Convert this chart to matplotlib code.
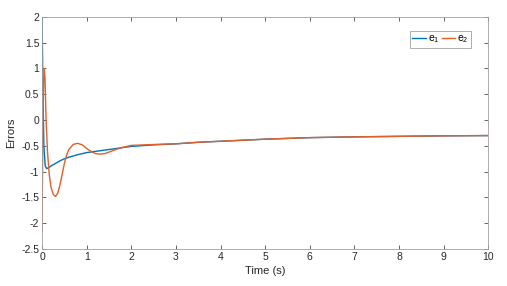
import matplotlib.pyplot as plt

plt.rcParams['font.family'] = ['Liberation Sans', 'DejaVu Sans']
plt.rcParams['mathtext.fontset'] = 'custom'
plt.rcParams['mathtext.rm'] = 'Liberation Sans'
plt.rcParams['mathtext.it'] = 'Liberation Sans'

# values
t1 = [0, 0.02, 0.04, 0.07, 0.1, 0.15, 0.2, 0.3, 0.4, 0.5, 0.6, 0.8, 1.0, 1.25, 1.5,
      1.75, 2.0, 2.5, 3, 3.5, 4, 4.5, 5, 5.5, 6, 7, 8, 9, 10]
e1 = [2.0, 0.5, -0.5, -0.88, -0.94, -0.92, -0.89, -0.84, -0.79, -0.75, -0.72, -0.67,
      -0.63, -0.6, -0.57, -0.54, -0.51, -0.48, -0.46, -0.43, -0.41, -0.39, -0.37,
      -0.355, -0.34, -0.325, -0.315, -0.305, -0.3]

t2 = [0, 0.01, 0.02, 0.035, 0.05, 0.065, 0.09, 0.12, 0.16, 0.2, 0.25, 0.3, 0.35, 0.4,
      0.45, 0.5, 0.55, 0.6, 0.7, 0.8, 0.9, 1.0, 1.1, 1.2, 1.3, 1.4, 1.5, 1.65, 1.8,
      2.0, 2.3, 2.6, 3, 3.5, 4, 4.5, 5, 5.5, 6, 7, 8, 9, 10]
e2 = [-2.15, -1.0, 0.0, 0.8, 1.0, 0.8, 0.0, -0.6, -1.05, -1.3, -1.44, -1.48, -1.42,
      -1.26, -1.05, -0.84, -0.68, -0.57, -0.47, -0.45, -0.48, -0.55, -0.61, -0.65, -0.66,
      -0.65, -0.62, -0.57, -0.53, -0.49, -0.48, -0.47, -0.46, -0.43, -0.41, -0.39,
      -0.37, -0.355, -0.34, -0.325, -0.315, -0.305, -0.3]

xticks = list(range(0, 11))
yticks = [-2.5, -2, -1.5, -1, -0.5, 0, 0.5, 1, 1.5, 2]

fig = plt.figure(figsize=(5.07, 2.86), dpi=100)
ax = fig.add_axes([0.083, 0.129, 0.880, 0.812])

ax.plot(t1, e1, color='#0072BD', lw=1.0, label='e$_1$')
ax.plot(t2, e2, color='#E0602A', lw=1.0, label='e$_2$')

ax.set_xlim(0, 10)
ax.set_ylim(-2.5, 2)
ax.set_xticks(xticks)
ax.set_yticks(yticks)
ax.set_yticklabels([f'{v:g}' for v in yticks])
ax.tick_params(direction='in', length=3, width=0.5, colors='#262626',
               labelsize=7.5, top=True, right=True, pad=2)
for s in ax.spines.values():
    s.set_color('#a0a0a0')
    s.set_linewidth(0.6)

ax.set_xlabel('Time (s)', fontsize=8, color='#262626', labelpad=3)
ax.set_ylabel('Errors', fontsize=8, color='#262626', labelpad=4)

leg = ax.legend(loc='upper right', bbox_to_anchor=(0.966, 0.95), ncol=2,
                fontsize=7.5, handlelength=1.3, handletextpad=0.15, columnspacing=0.25,
                borderpad=0.25, borderaxespad=0.2, fancybox=False, framealpha=1)
leg.get_frame().set_edgecolor('#a0a0a0')
leg.get_frame().set_linewidth(0.6)

fig.savefig('out.png', dpi=100)
